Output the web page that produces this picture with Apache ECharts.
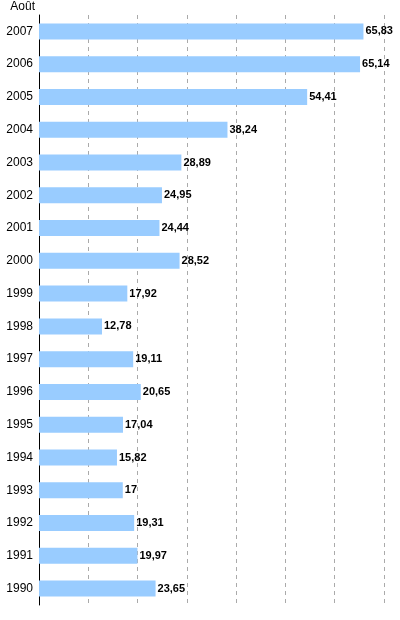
<!DOCTYPE html>
<html><head><meta charset="utf-8">
<script src="https://cdn.jsdelivr.net/npm/echarts@6/dist/echarts.min.js"></script>
<style>html,body{margin:0;padding:0;background:#fff}#c{width:400px;height:620px}</style>
</head><body><div id="c"></div>
<script>
const years = ['1990','1991','1992','1993','1994','1995','1996','1997','1998','1999','2000','2001','2002','2003','2004','2005','2006','2007'];
const values = [23.65,19.97,19.31,17,15.82,17.04,20.65,19.11,12.78,17.92,28.52,24.44,24.95,28.89,38.24,54.41,65.14,65.83];
const chart = echarts.init(document.getElementById('c'));
chart.setOption({
  animation: false,
  grid: { left: 39, right: 16, top: 15, bottom: 15, containLabel: false },
  xAxis: {
    type: 'value', min: 0, max: 70, interval: 10,
    axisLabel: { show: false }, axisLine: { show: false }, axisTick: { show: false },
    splitLine: { show: true, lineStyle: { color: '#aaa', type: [4, 4], width: 1 } }
  },
  yAxis: {
    type: 'category', data: years,
    name: 'Août', nameLocation: 'end', nameGap: 2,
    nameTextStyle: { color: '#000', fontFamily: 'Liberation Sans', fontSize: 12, align: 'right', padding: [0, 4, 0, 0] },
    axisLine: { show: true, lineStyle: { color: '#000' } },
    axisTick: { show: false },
    axisLabel: { color: '#000', fontFamily: 'Liberation Sans', fontSize: 12, margin: 6 }
  },
  series: [{
    type: 'bar', data: values, barWidth: 16,
    itemStyle: { color: '#99ccff' },
    label: {
      show: true, position: 'right', distance: 2, color: '#000',
      fontFamily: 'Liberation Sans', fontSize: 11, fontWeight: 'bold',
      formatter: p => String(p.value).replace('.', ',')
    }
  }]
});
</script></body></html>
